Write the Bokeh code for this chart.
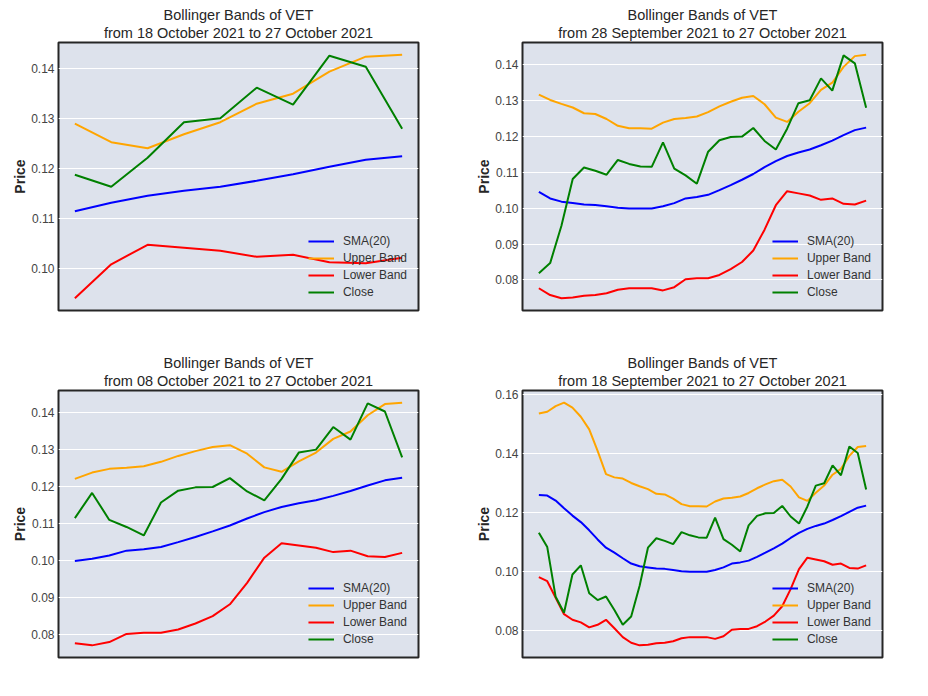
from bokeh.plotting import figure
from bokeh.layouts import gridplot
from bokeh.models import Range1d, SingleIntervalTicker, PrintfTickFormatter, Title
from bokeh.embed import file_html
from bokeh.resources import INLINE

# 40 daily values, 18 September 2021 .. 27 October 2021
close = [0.1132, 0.1083, 0.0914, 0.0860, 0.0990, 0.1021, 0.0926, 0.0903, 0.0915, 0.0869,
         0.0819, 0.0847, 0.0951, 0.1081, 0.1113, 0.1104, 0.1093, 0.1134, 0.1123, 0.1116,
         0.1115, 0.1183, 0.1110, 0.1091, 0.1068, 0.1157, 0.1189, 0.1198, 0.1199, 0.1223,
         0.1187, 0.1163, 0.1221, 0.1292, 0.1300, 0.1361, 0.1327, 0.1425, 0.1403, 0.1279]
sma20 = [0.1260, 0.1258, 0.1241, 0.1215, 0.1190, 0.1168, 0.1140, 0.1109, 0.1081, 0.1064,
         0.1045, 0.1027, 0.1018, 0.1014, 0.1010, 0.1009, 0.1005, 0.1001, 0.0999, 0.0999,
         0.0999, 0.1005, 0.1014, 0.1027, 0.1031, 0.1037, 0.1050, 0.1064, 0.1079, 0.1095,
         0.1114, 0.1131, 0.1145, 0.1155, 0.1163, 0.1175, 0.1188, 0.1203, 0.1217, 0.1224]
upper = [0.1537, 0.1543, 0.1562, 0.1574, 0.1557, 0.1526, 0.1483, 0.1410, 0.1331, 0.1320,
         0.1316, 0.1301, 0.1290, 0.1280, 0.1264, 0.1262, 0.1248, 0.1229, 0.1222, 0.1222,
         0.1221, 0.1238, 0.1248, 0.1251, 0.1255, 0.1267, 0.1283, 0.1296, 0.1307, 0.1312,
         0.1289, 0.1252, 0.1240, 0.1268, 0.1292, 0.1329, 0.1349, 0.1393, 0.1423, 0.1427]
lower = [0.0981, 0.0967, 0.0911, 0.0855, 0.0836, 0.0827, 0.0810, 0.0819, 0.0836, 0.0807,
         0.0777, 0.0758, 0.0749, 0.0751, 0.0756, 0.0758, 0.0763, 0.0773, 0.0777, 0.0777,
         0.0777, 0.0771, 0.0780, 0.0802, 0.0805, 0.0805, 0.0814, 0.0830, 0.0850, 0.0882,
         0.0940, 0.1008, 0.1047, 0.1041, 0.1035, 0.1023, 0.1027, 0.1012, 0.1010, 0.1021]

windows = [10, 30, 20, 40]
subtitles = ["from 18 October 2021 to 27 October 2021",
             "from 28 September 2021 to 27 October 2021",
             "from 08 October 2021 to 27 October 2021",
             "from 18 September 2021 to 27 October 2021"]
tick_steps = [0.01, 0.01, 0.01, 0.02]
main_title = "Bollinger Bands of VET"

FONT = "Liberation Sans"
frame_w = [360, 360, 360, 360]
frame_h = [268, 268, 267, 267]
b_left = [58, 58, 58, 58]
b_right = [46, 40, 46, 40]
b_top = [42, 42, 42, 42]
b_bottom = [38, 38, 36, 36]

figs = []
for i, n in enumerate(windows):
    c = close[-n:]
    s = sma20[-n:]
    u = upper[-n:]
    lo = lower[-n:]
    x = list(range(n))
    allv = c + s + u + lo
    vmin, vmax = min(allv), max(allv)
    span = vmax - vmin
    xs = n - 1
    p = figure(frame_width=frame_w[i], frame_height=frame_h[i], output_backend="svg",
               toolbar_location=None,
               x_range=Range1d(-0.05 * xs, xs * 1.05),
               y_range=Range1d(vmin - 0.05 * span, vmax + 0.05 * span),
               min_border_left=b_left[i], min_border_right=b_right[i],
               min_border_top=b_top[i], min_border_bottom=b_bottom[i])
    p.add_layout(Title(text=subtitles[i], align="center", text_font=FONT, text_font_size="14.5px",
                       text_font_style="normal", text_color="#262626", standoff=3, offset=0), "above")
    p.add_layout(Title(text=main_title, align="center", text_font=FONT, text_font_size="14.5px",
                       text_font_style="normal", text_color="#262626", standoff=-2, offset=0), "above")
    p.background_fill_color = "#dde2ec"
    p.border_fill_color = "white"
    p.outline_line_color = "#262626"
    p.outline_line_width = 2
    p.xaxis.visible = False
    p.xgrid.grid_line_color = None
    p.ygrid.grid_line_color = "white"
    p.ygrid.grid_line_width = 1
    p.yaxis.ticker = SingleIntervalTicker(interval=tick_steps[i])
    p.yaxis.formatter = PrintfTickFormatter(format="%.2f")
    p.yaxis.axis_line_color = None
    p.yaxis.major_tick_line_color = None
    p.yaxis.minor_tick_line_color = None
    p.yaxis.major_tick_out = 0
    p.yaxis.minor_tick_out = 0
    p.yaxis.major_label_text_font = FONT
    p.yaxis.major_label_text_font_size = "12px"
    p.yaxis.major_label_text_color = "#444444"
    p.yaxis.major_label_standoff = 4
    p.yaxis.axis_label = "Price"
    p.yaxis.axis_label_text_font = FONT
    p.yaxis.axis_label_text_font_size = "14px"
    p.yaxis.axis_label_text_font_style = "bold"
    p.yaxis.axis_label_text_color = "#262626"
    p.yaxis.axis_label_standoff = 0

    p.line(x, s, color="blue", line_width=2, legend_label="SMA(20)")
    p.line(x, u, color="orange", line_width=2, legend_label="Upper Band")
    p.line(x, lo, color="red", line_width=2, legend_label="Lower Band")
    p.line(x, c, color="green", line_width=2, legend_label="Close")

    lg = p.legend[0]
    lg.location = "bottom_right"
    lg.background_fill_alpha = 0
    lg.border_line_color = None
    lg.label_text_font = FONT
    lg.label_text_font_size = "12px"
    lg.label_text_color = "#333333"
    lg.glyph_width = 26
    lg.glyph_height = 14
    lg.label_height = 14
    lg.spacing = 3
    lg.padding = 2
    lg.margin = 11
    lg.label_standoff = 9
    figs.append(p)

grid = gridplot([[figs[0], figs[1]], [figs[2], figs[3]]], toolbar_location=None)
open("out.html", "w").write(file_html(grid, INLINE))
